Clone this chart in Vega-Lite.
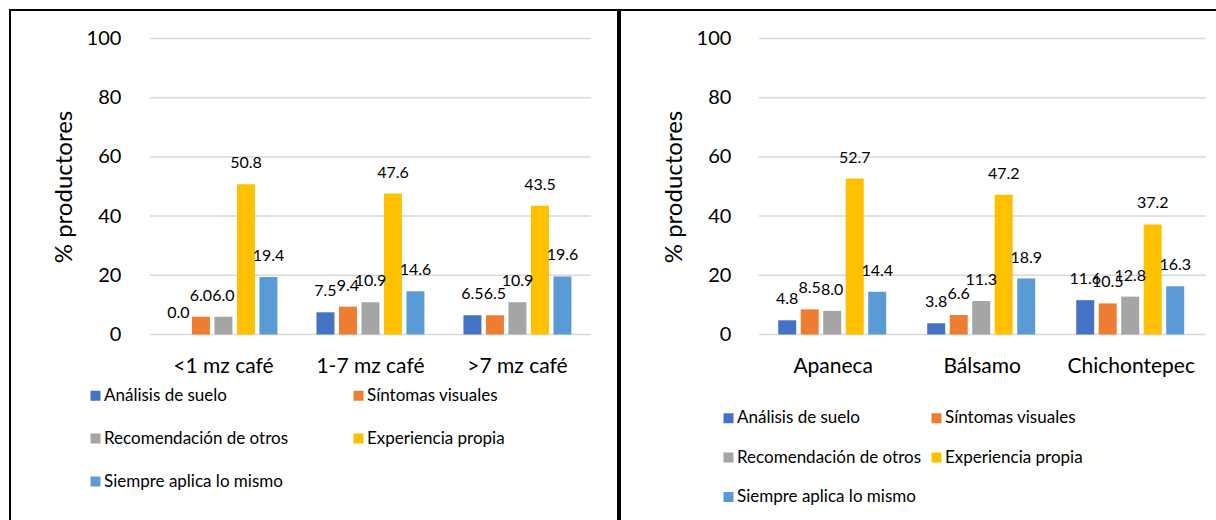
{
  "$schema": "https://vega.github.io/schema/vega-lite/v6.json",
  "background": "white",
  "padding": {"left": 9, "top": 9, "right": 0, "bottom": 0},
  "config": {
    "font": "Lato",
    "view": {"stroke": "#000000", "strokeWidth": 2},
    "axis": {"domain": false, "ticks": false, "grid": false, "labelColor": "#000000", "titleColor": "#000000", "labelFont": "Lato", "titleFont": "Lato"},
    "axisX": {"labelAngle": 0, "labelFontSize": 21, "labelPadding": 21, "offset": -195.5},
    "axisY": {"offset": -139.4, "labelPadding": 28.5, "labelFontSize": 20, "titleFontSize": 24, "titleFontWeight": "normal", "titleX": -73, "titleY": 176.5},
    "legend": {"labelFont": "Lato", "labelColor": "#000000", "labelFontSize": 17, "labelLimit": 400, "symbolType": "square", "symbolSize": 100, "symbolStrokeWidth": 0, "labelOffset": 0, "padding": 0, "columns": 2, "direction": "horizontal"}
  },
  "datasets": {
    "finca": [
      {"grupo": "<1 mz café", "criterio": "Análisis de suelo", "valor": 0.0},
      {"grupo": "<1 mz café", "criterio": "Síntomas visuales", "valor": 6.0},
      {"grupo": "<1 mz café", "criterio": "Recomendación de otros", "valor": 6.0},
      {"grupo": "<1 mz café", "criterio": "Experiencia propia", "valor": 50.8},
      {"grupo": "<1 mz café", "criterio": "Siempre aplica lo mismo", "valor": 19.4},
      {"grupo": "1-7 mz café", "criterio": "Análisis de suelo", "valor": 7.5},
      {"grupo": "1-7 mz café", "criterio": "Síntomas visuales", "valor": 9.4},
      {"grupo": "1-7 mz café", "criterio": "Recomendación de otros", "valor": 10.9},
      {"grupo": "1-7 mz café", "criterio": "Experiencia propia", "valor": 47.6},
      {"grupo": "1-7 mz café", "criterio": "Siempre aplica lo mismo", "valor": 14.6},
      {"grupo": ">7 mz café", "criterio": "Análisis de suelo", "valor": 6.5},
      {"grupo": ">7 mz café", "criterio": "Síntomas visuales", "valor": 6.5},
      {"grupo": ">7 mz café", "criterio": "Recomendación de otros", "valor": 10.9},
      {"grupo": ">7 mz café", "criterio": "Experiencia propia", "valor": 43.5},
      {"grupo": ">7 mz café", "criterio": "Siempre aplica lo mismo", "valor": 19.6}
    ],
    "zona": [
      {"grupo": "Apaneca", "criterio": "Análisis de suelo", "valor": 4.8},
      {"grupo": "Apaneca", "criterio": "Síntomas visuales", "valor": 8.5},
      {"grupo": "Apaneca", "criterio": "Recomendación de otros", "valor": 8.0},
      {"grupo": "Apaneca", "criterio": "Experiencia propia", "valor": 52.7},
      {"grupo": "Apaneca", "criterio": "Siempre aplica lo mismo", "valor": 14.4},
      {"grupo": "Bálsamo", "criterio": "Análisis de suelo", "valor": 3.8},
      {"grupo": "Bálsamo", "criterio": "Síntomas visuales", "valor": 6.6},
      {"grupo": "Bálsamo", "criterio": "Recomendación de otros", "valor": 11.3},
      {"grupo": "Bálsamo", "criterio": "Experiencia propia", "valor": 47.2},
      {"grupo": "Bálsamo", "criterio": "Siempre aplica lo mismo", "valor": 18.9},
      {"grupo": "Chichontepec", "criterio": "Análisis de suelo", "valor": 11.6},
      {"grupo": "Chichontepec", "criterio": "Síntomas visuales", "valor": 10.5},
      {"grupo": "Chichontepec", "criterio": "Recomendación de otros", "valor": 12.8},
      {"grupo": "Chichontepec", "criterio": "Experiencia propia", "valor": 37.2},
      {"grupo": "Chichontepec", "criterio": "Siempre aplica lo mismo", "valor": 16.3}
    ],
    "rejilla": [{"v": 0}, {"v": 20}, {"v": 40}, {"v": 60}, {"v": 80}, {"v": 100}]
  },
  "bounds": "flush",
  "spacing": 2,
  "resolve": {"scale": {"color": "independent"}, "legend": {"color": "independent"}},
  "hconcat": [
    {
      "width": 608,
      "height": 520,
      "layer": [
        {
          "data": {"name": "rejilla"},
          "mark": {"type": "rule", "color": "#d9d9d9", "strokeWidth": 1.5},
          "encoding": {
            "y": {"field": "v", "type": "quantitative", "title": "% productores", "axis": {"values": [0, 20, 40, 60, 80, 100]}},
            "x": {"datum": "<1 mz café", "type": "nominal", "bandPosition": 0, "title": null},
            "x2": {"datum": ">7 mz café", "bandPosition": 1}
          }
        },
        {
          "data": {"name": "finca"},
          "mark": {"type": "bar"},
          "encoding": {
            "x": {
              "field": "grupo", "type": "nominal", "title": null,
              "scale": {"domain": ["<1 mz café", "1-7 mz café", ">7 mz café"], "paddingInner": 0, "paddingOuter": 0.568, "align": 0.838}
            },
            "xOffset": {
              "field": "criterio", "type": "nominal",
              "scale": {"domain": ["Análisis de suelo", "Síntomas visuales", "Recomendación de otros", "Experiencia propia", "Siempre aplica lo mismo"], "paddingInner": 0.2, "paddingOuter": 0.867}
            },
            "y": {
              "field": "valor", "type": "quantitative", "title": "% productores",
              "scale": {"domain": [-66.05, 109.63], "nice": false, "zero": false},
              "axis": {"values": [0, 20, 40, 60, 80, 100]}
            },
            "y2": {"datum": 0},
            "color": {
              "field": "criterio", "type": "nominal",
              "scale": {"domain": ["Análisis de suelo", "Síntomas visuales", "Recomendación de otros", "Experiencia propia", "Siempre aplica lo mismo"], "range": ["#4472C4", "#ED7D31", "#A5A5A5", "#FFC000", "#5B9BD5"]},
              "legend": {"title": null, "orient": "none", "legendX": 77, "legendY": 377, "columnPadding": 61, "rowPadding": 25}
            }
          }
        },
        {
          "data": {"name": "finca"},
          "mark": {"type": "text", "fontSize": 16, "baseline": "middle", "dy": -21, "color": "#000000"},
          "encoding": {
            "x": {"field": "grupo", "type": "nominal", "title": null},
            "xOffset": {"field": "criterio", "type": "nominal"},
            "y": {"field": "valor", "type": "quantitative", "title": "% productores", "axis": {"values": [0, 20, 40, 60, 80, 100]}},
            "text": {"field": "valor", "type": "quantitative", "format": ".1f"}
          }
        }
      ]
    },
    {
      "width": 610,
      "height": 520,
      "layer": [
        {
          "data": {"name": "rejilla"},
          "mark": {"type": "rule", "color": "#d9d9d9", "strokeWidth": 1.5},
          "encoding": {
            "y": {"field": "v", "type": "quantitative", "title": "% productores", "axis": {"values": [0, 20, 40, 60, 80, 100]}},
            "x": {"datum": "Apaneca", "type": "nominal", "bandPosition": 0, "title": null},
            "x2": {"datum": "Chichontepec", "bandPosition": 1}
          }
        },
        {
          "data": {"name": "zona"},
          "mark": {"type": "bar"},
          "encoding": {
            "x": {
              "field": "grupo", "type": "nominal", "title": null,
              "scale": {"domain": ["Apaneca", "Bálsamo", "Chichontepec"], "paddingInner": 0, "paddingOuter": 0.547, "align": 0.851}
            },
            "xOffset": {
              "field": "criterio", "type": "nominal",
              "scale": {"domain": ["Análisis de suelo", "Síntomas visuales", "Recomendación de otros", "Experiencia propia", "Siempre aplica lo mismo"], "paddingInner": 0.2, "paddingOuter": 0.87}
            },
            "y": {
              "field": "valor", "type": "quantitative", "title": "% productores",
              "scale": {"domain": [-66.05, 109.63], "nice": false, "zero": false},
              "axis": {"values": [0, 20, 40, 60, 80, 100]}
            },
            "y2": {"datum": 0},
            "color": {
              "field": "criterio", "type": "nominal",
              "scale": {"domain": ["Análisis de suelo", "Síntomas visuales", "Recomendación de otros", "Experiencia propia", "Siempre aplica lo mismo"], "range": ["#4472C4", "#ED7D31", "#A5A5A5", "#FFC000", "#5B9BD5"]},
              "legend": {"title": null, "orient": "none", "legendX": 100, "legendY": 399.5, "columnPadding": 6, "rowPadding": 21.5}
            }
          }
        },
        {
          "data": {"name": "zona"},
          "mark": {"type": "text", "fontSize": 16, "baseline": "middle", "dy": -21, "color": "#000000"},
          "encoding": {
            "x": {"field": "grupo", "type": "nominal", "title": null},
            "xOffset": {"field": "criterio", "type": "nominal"},
            "y": {"field": "valor", "type": "quantitative", "title": "% productores", "axis": {"values": [0, 20, 40, 60, 80, 100]}},
            "text": {"field": "valor", "type": "quantitative", "format": ".1f"}
          }
        }
      ]
    }
  ]
}
